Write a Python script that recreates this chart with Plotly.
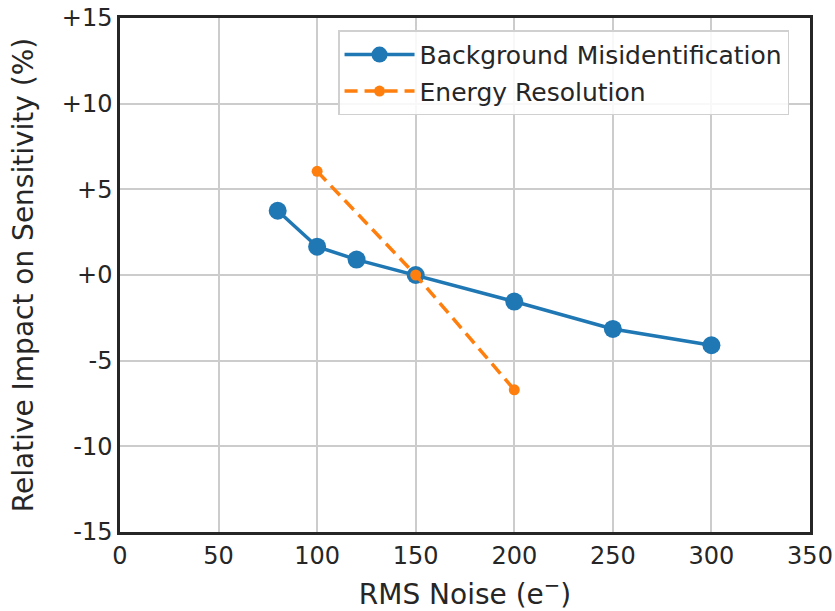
import plotly.graph_objects as go

bg_x = [80, 100, 120, 150, 200, 250, 300]
bg_y = [3.75, 1.65, 0.9, 0.0, -1.55, -3.15, -4.1]
er_x = [100, 150, 200]
er_y = [6.05, 0.0, -6.7]

x_ticks = [0, 50, 100, 150, 200, 250, 300, 350]
y_ticks = [-15, -10, -5, 0, 5, 10, 15]
y_ticktext = ["-15", "-10", "-5", "+0", "+5", "+10", "+15"]

font_color = "#262626"
fig = go.Figure()
fig.add_trace(go.Scatter(
    x=bg_x, y=bg_y, mode="lines+markers", name="Background Misidentification",
    line=dict(color="#1f77b4", width=3.5),
    marker=dict(color="#1f77b4", size=18),
    legendgroup="a",
))
fig.add_trace(go.Scatter(
    x=er_x, y=er_y, mode="lines+markers", name="Energy Resolution",
    line=dict(color="#ff7f0e", width=3.5, dash="13px,7px"),
    marker=dict(color="#ff7f0e", size=11),
    legendgroup="b",
))

axis_common = dict(
    showgrid=True, gridcolor="#cccccc", gridwidth=1.5,
    showline=True, linecolor=font_color, linewidth=2.5, mirror=True,
    zeroline=False, ticks="", automargin=False,
    tickfont=dict(family="DejaVu Sans", size=24, color=font_color),
)
fig.update_xaxes(range=[0, 350], tickvals=x_ticks,
                 title=dict(text="RMS Noise (e<sup>−</sup>)", font=dict(family="DejaVu Sans", size=28, color=font_color), standoff=18),
                 **axis_common)
fig.update_yaxes(range=[-15, 15], tickvals=y_ticks, ticktext=y_ticktext,
                 title=dict(text="Relative Impact on Sensitivity (%)", font=dict(family="DejaVu Sans", size=28, color=font_color), standoff=20),
                 **axis_common)

fig.update_layout(
    width=835, height=611,
    margin=dict(l=120, r=25, t=18, b=79),
    plot_bgcolor="white", paper_bgcolor="white",
    font=dict(family="DejaVu Sans", color=font_color),
    legend=dict(
        x=0.316, y=0.976, xanchor="left", yanchor="top",
        bgcolor="rgba(255,255,255,0.85)", bordercolor="#d0d0d0", borderwidth=1.5,
        font=dict(family="DejaVu Sans", size=25, color=font_color),
        itemwidth=70, tracegroupgap=1,
    ),
)
fig.write_html("out.html")
